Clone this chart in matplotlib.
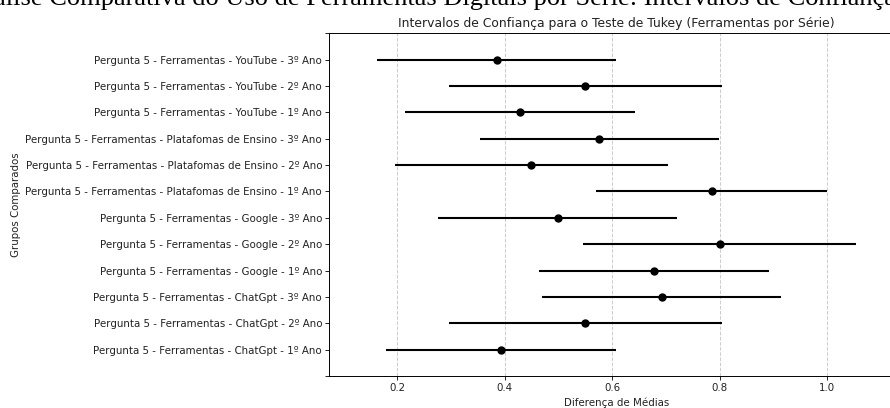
import numpy as np
import matplotlib
matplotlib.use("Agg")
import matplotlib.pyplot as plt

# ---------------------------------------
# Data
# ---------------------------------------

groups = [
    "Pergunta 5 - Ferramentas - ChatGpt - 1º Ano",
    "Pergunta 5 - Ferramentas - ChatGpt - 2º Ano",
    "Pergunta 5 - Ferramentas - ChatGpt - 3º Ano",
    "Pergunta 5 - Ferramentas - Google - 1º Ano",
    "Pergunta 5 - Ferramentas - Google - 2º Ano",
    "Pergunta 5 - Ferramentas - Google - 3º Ano",
    "Pergunta 5 - Ferramentas - Platafomas de Ensino - 1º Ano",
    "Pergunta 5 - Ferramentas - Platafomas de Ensino - 2º Ano",
    "Pergunta 5 - Ferramentas - Platafomas de Ensino - 3º Ano",
    "Pergunta 5 - Ferramentas - YouTube - 1º Ano",
    "Pergunta 5 - Ferramentas - YouTube - 2º Ano",
    "Pergunta 5 - Ferramentas - YouTube - 3º Ano",
]

means = [0.393, 0.550, 0.692, 0.678, 0.800, 0.499,
         0.785, 0.450, 0.576, 0.429, 0.550, 0.385]

halfwidths = [0.214, 0.254, 0.222, 0.214, 0.254, 0.222,
              0.214, 0.254, 0.222, 0.214, 0.254, 0.222]

suptitle = "Análise Comparativa do Uso de Ferramentas Digitais por Série: Intervalos de Confiança"
title = "Intervalos de Confiança para o Teste de Tukey (Ferramentas por Série)"

# ---------------------------------------
# Plot
# ---------------------------------------

W, H = 890, 408
fig = plt.figure(figsize=(W / 100, H / 100), dpi=100)

means = np.array(means)
halfwidths = np.array(halfwidths)
minrange = (means - halfwidths).min()
maxrange = (means + halfwidths).max()
r = maxrange - minrange
x0, x1 = minrange - r / 10, maxrange + r / 10

# axes is wider than the visible crop on the right
left_px, top_px, bottom_px = 329.3, 33.3, 376.0
px_per_unit = 537.5
right_px = left_px + (x1 - x0) * px_per_unit
ax = fig.add_axes([
    left_px / W,
    (H - bottom_px) / H,
    (right_px - left_px) / W,
    (bottom_px - top_px) / H,
])

ax.errorbar(
    means,
    np.arange(len(means)),
    xerr=halfwidths,
    marker="o",
    markersize=5,
    linestyle="None",
    color="k",
    ecolor="k",
    elinewidth=1.5,
)

ax.set_xlim(x0, x1)
ax.set_ylim(-1, len(means))
ax.set_yticks(np.arange(-1, len(means) + 1))
ax.set_yticklabels([""] + groups + [""])
ax.set_xticks([0.2, 0.4, 0.6, 0.8, 1.0])
ax.tick_params(labelsize=7.4, length=2.6, width=0.7, pad=2.6, colors="#222222")

for s in ax.spines.values():
    s.set_linewidth(0.7)

ax.grid(axis="x", linestyle="--", color="#cccccc", linewidth=0.7)

ax.set_title(title, fontsize=8.9, pad=4.4, color="#222222")
ax.set_xlabel("Diferença de Médias", fontsize=7.4, labelpad=3, color="#222222")
ax.set_ylabel("Grupos Comparados", fontsize=7.4, labelpad=3, color="#222222")

fig.text(
    896 / W,
    (H - 5) / H,
    suptitle,
    ha="right",
    va="baseline",
    fontsize=19.0,
    family="Liberation Serif",
)

plt.savefig("out.png", dpi=100)
